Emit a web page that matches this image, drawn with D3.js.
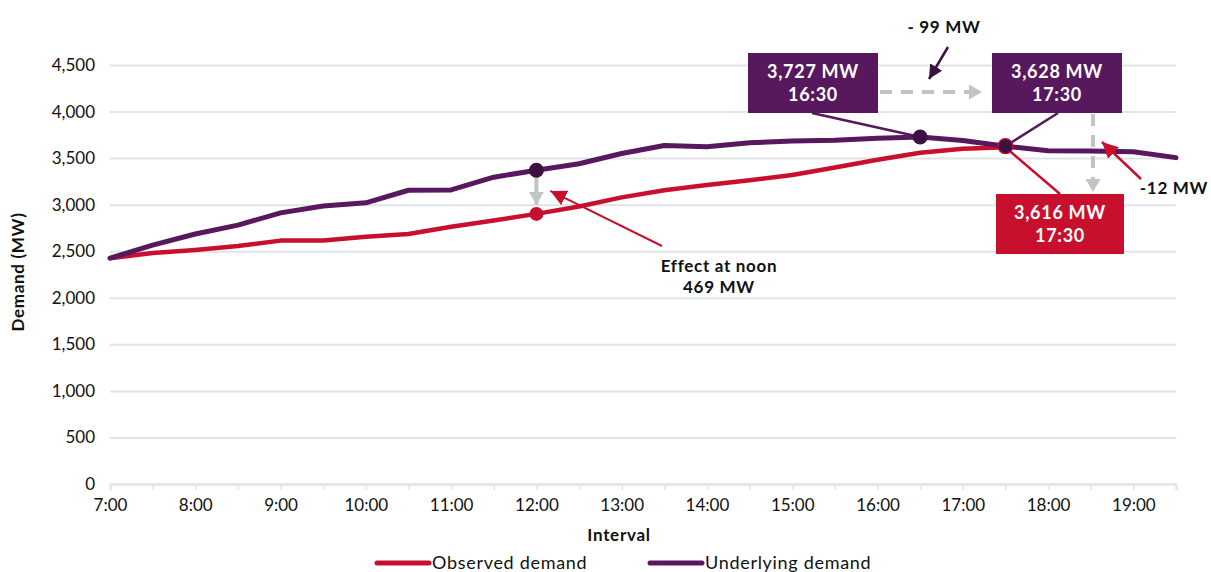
<!DOCTYPE html>
<html>
<head>
<meta charset="utf-8">
<script src="https://cdn.jsdelivr.net/npm/d3@7"></script>
<style>
  body { margin: 0; background: #fff; }
  text { font-family: Lato, 'Open Sans', sans-serif; fill: #111; }
  .bold { font-weight: bold; letter-spacing: 0.7px; }
</style>
</head>
<body>
<div id="chart"></div>
<script>
// half-hour intervals, 7:00 -> 19:30
const times = ['7:00', '7:30', '8:00', '8:30', '9:00', '9:30', '10:00', '10:30', '11:00', '11:30',
  '12:00', '12:30', '13:00', '13:30', '14:00', '14:30', '15:00', '15:30', '16:00', '16:30',
  '17:00', '17:30', '18:00', '18:30', '19:00', '19:30']

const underlying = [2425, 2565, 2685, 2780, 2912, 2985, 3020, 3155, 3158, 3295,
  3370, 3440, 3550, 3635, 3622, 3665, 3683, 3692, 3712, 3727,
  3690, 3628, 3578, 3576, 3568, 3505]

// observed only runs to 17:30
const observed = [2425, 2482, 2514, 2556, 2614, 2615, 2655, 2685, 2763, 2830,
  2901, 2980, 3078, 3155, 3212, 3262, 3318, 3400, 3482, 3558,
  3600, 3616]

const xTickLabels = ['7:00', '8:00', '9:00', '10:00', '11:00', '12:00', '13:00',
  '14:00', '15:00', '16:00', '17:00', '18:00', '19:00']
const yTicks = [0, 500, 1000, 1500, 2000, 2500, 3000, 3500, 4000, 4500]

const seriesNames = ['Observed demand', 'Underlying demand']

const red = '#c8102e'
const purple = '#58185e'
const dark = '#3a1140'
const grey = '#c3c3c3'

const width = 1211
const height = 572
const margin = { top: 65, right: 35, bottom: 88, left: 110 }

const toMin = t => {
  const [h, m] = t.split(':').map(Number)
  return (h - 7) * 60 + m
}

const svg = d3
  .select('#chart')
  .append('svg')
  .attr('width', width)
  .attr('height', height)

const x = d3.scaleLinear().domain([0, 750]).range([margin.left, width - margin.right])
const y = d3.scaleLinear().domain([0, 4500]).range([height - margin.bottom, margin.top])

// gridlines
const yAxis = d3.axisLeft(y).tickValues(yTicks).tickSize(-(x.range()[1] - x.range()[0]))
  .tickFormat(d3.format(','))
  .tickPadding(15)

svg.append('g')
  .attr('class', 'y-axis')
  .attr('transform', `translate(${margin.left},0)`)
  .call(yAxis)
  .call(g => g.select('.domain').remove())
  .call(g => g.selectAll('line').attr('stroke', '#dfe4e8').attr('stroke-width', 2))
  .call(g => g.selectAll('text').style('font-size', '17px').attr('fill', '#111'))

// x axis, ticks every half hour
const xAxis = d3.axisBottom(x)
  .tickValues(times.map(toMin))
  .tickSize(6)
  .tickPadding(9)
  .tickFormat(d => {
    const lbl = times[times.map(toMin).indexOf(d)]
    return xTickLabels.includes(lbl) ? lbl : ''
  })

svg.append('g')
  .attr('class', 'x-axis')
  .attr('transform', `translate(0,${y(0)})`)
  .call(xAxis)
  .call(g => g.select('.domain').attr('stroke', '#dfe4e8').attr('stroke-width', 2))
  .call(g => g.selectAll('line').attr('stroke', '#dfe4e8').attr('stroke-width', 1.5))
  .call(g => g.selectAll('text').style('font-size', '17px').attr('fill', '#111'))

// axis titles
svg.append('text')
  .attr('class', 'bold')
  .attr('x', 619)
  .attr('y', 541)
  .attr('text-anchor', 'middle')
  .style('font-size', '17px')
  .text('Interval')

svg.append('text')
  .attr('class', 'bold')
  .attr('transform', 'translate(24,272) rotate(-90)')
  .attr('text-anchor', 'middle')
  .style('font-size', '17px')
  .text('Demand (MW)')

// lines
const line = d3.line()
  .x((d, i) => x(toMin(times[i])))
  .y(d => y(d))

svg.append('path')
  .datum(observed)
  .attr('d', line)
  .attr('fill', 'none')
  .attr('stroke', red)
  .attr('stroke-width', 4.5)
  .attr('stroke-linejoin', 'round')

svg.append('path')
  .datum(underlying)
  .attr('d', line)
  .attr('fill', 'none')
  .attr('stroke', purple)
  .attr('stroke-width', 5)
  .attr('stroke-linejoin', 'round')
  .attr('stroke-linecap', 'round')

// arrowheads
const defs = svg.append('defs')
function marker(id, color, w, h) {
  defs.append('marker')
    .attr('id', id)
    .attr('viewBox', `0 0 ${w} ${h}`)
    .attr('refX', w)
    .attr('refY', h / 2)
    .attr('markerWidth', w)
    .attr('markerHeight', h)
    .attr('markerUnits', 'userSpaceOnUse')
    .attr('orient', 'auto')
    .append('path')
    .attr('d', `M0,0L${w},${h / 2}L0,${h}Z`)
    .attr('fill', color)
}
marker('head-grey', grey, 13, 15)
marker('head-red', red, 16, 16)
marker('head-dark', dark, 14, 14)

const iNoon = times.indexOf('12:00')
const iPeak = times.indexOf('16:30')
const iLate = times.indexOf('17:30')

// noon effect
svg.append('line')
  .attr('x1', x(toMin('12:00'))).attr('y1', y(underlying[iNoon]) + 7)
  .attr('x2', x(toMin('12:00'))).attr('y2', y(observed[iNoon]) - 9)
  .attr('stroke', grey).attr('stroke-width', 4)
  .attr('marker-end', 'url(#head-grey)')

svg.append('line')
  .attr('x1', 662).attr('y1', 246)
  .attr('x2', x(toMin('12:00')) + 14).attr('y2', y(observed[iNoon]) - 23)
  .attr('stroke', red).attr('stroke-width', 2)
  .attr('marker-end', 'url(#head-red)')

svg.append('text')
  .attr('class', 'bold')
  .attr('x', 719).attr('y', 272)
  .attr('text-anchor', 'middle')
  .style('font-size', '17px')
  .text('Effect at noon')
svg.append('text')
  .attr('class', 'bold')
  .attr('x', 719).attr('y', 293)
  .attr('text-anchor', 'middle')
  .style('font-size', '17px')
  .text(`${d3.format(',')(underlying[iNoon] - observed[iNoon])} MW`)

// leader lines to boxes
const boxes = [
  { cx: 813, cy: 83, w: 130, h: 60, fill: purple, v: underlying[iPeak], t: '16:30', i: iPeak, series: underlying, lx: 812, ly: 113, lc: purple },
  { cx: 1057, cy: 83, w: 130, h: 60, fill: purple, v: underlying[iLate], t: '17:30', i: iLate, series: underlying, lx: 1058, ly: 113, lc: purple },
  { cx: 1060, cy: 224, w: 128, h: 60, fill: red, v: observed[iLate], t: '17:30', i: iLate, series: observed, lx: 1060, ly: 194, lc: red }
]

boxes.forEach(b => {
  svg.append('line')
    .attr('x1', b.lx).attr('y1', b.ly)
    .attr('x2', x(toMin(times[b.i]))).attr('y2', y(b.series[b.i]))
    .attr('stroke', b.lc).attr('stroke-width', 2.5)
})

// grey dashed comparison arrows
svg.append('line')
  .attr('x1', 880).attr('y1', 92)
  .attr('x2', 982).attr('y2', 92)
  .attr('stroke', grey).attr('stroke-width', 4)
  .attr('stroke-dasharray', '12,9')
  .attr('marker-end', 'url(#head-grey)')

svg.append('line')
  .attr('x1', 1093).attr('y1', 114)
  .attr('x2', 1093).attr('y2', 192)
  .attr('stroke', grey).attr('stroke-width', 4)
  .attr('stroke-dasharray', '12,9')
  .attr('marker-end', 'url(#head-grey)')

// dots
svg.append('circle')
  .attr('cx', x(toMin('12:00'))).attr('cy', y(observed[iNoon])).attr('r', 7)
  .attr('fill', red)
svg.append('circle')
  .attr('cx', x(toMin('12:00'))).attr('cy', y(underlying[iNoon])).attr('r', 7.5)
  .attr('fill', dark)
svg.append('circle')
  .attr('cx', x(toMin('16:30'))).attr('cy', y(underlying[iPeak])).attr('r', 7.5)
  .attr('fill', dark)
svg.append('circle')
  .attr('cx', x(toMin('17:30'))).attr('cy', y(underlying[iLate])).attr('r', 7.5)
  .attr('fill', dark).attr('stroke', red).attr('stroke-width', 1.2)

// boxes
boxes.forEach(b => {
  svg.append('rect')
    .attr('x', b.cx - b.w / 2).attr('y', b.cy - b.h / 2)
    .attr('width', b.w).attr('height', b.h)
    .attr('fill', b.fill)
  svg.append('text')
    .attr('class', 'bold')
    .attr('x', b.cx).attr('y', b.cy - 5)
    .attr('text-anchor', 'middle')
    .style('font-size', '18px').style('fill', '#fff')
    .text(`${d3.format(',')(b.v)} MW`)
  svg.append('text')
    .attr('class', 'bold')
    .attr('x', b.cx).attr('y', b.cy + 18)
    .attr('text-anchor', 'middle')
    .style('font-size', '18px').style('fill', '#fff')
    .text(b.t)
})

// -99 MW
svg.append('line')
  .attr('x1', 948).attr('y1', 47)
  .attr('x2', 929).attr('y2', 79)
  .attr('stroke', dark).attr('stroke-width', 2.5)
  .attr('marker-end', 'url(#head-dark)')
svg.append('text')
  .attr('class', 'bold')
  .attr('x', 944).attr('y', 33)
  .attr('text-anchor', 'middle')
  .style('font-size', '17px')
  .text(`- ${underlying[iPeak] - underlying[iLate]} MW`)

// -12 MW
svg.append('line')
  .attr('x1', 1141).attr('y1', 179)
  .attr('x2', 1102).attr('y2', 142)
  .attr('stroke', red).attr('stroke-width', 2.5)
  .attr('marker-end', 'url(#head-red)')
svg.append('text')
  .attr('class', 'bold')
  .attr('x', 1174).attr('y', 194)
  .attr('text-anchor', 'middle')
  .style('font-size', '17px')
  .text(`-${underlying[iLate] - observed[iLate]} MW`)

// legend
const legend = svg.append('g').attr('transform', 'translate(0,563)')
const legendX = [375, 648]
seriesNames.forEach((name, i) => {
  const g = legend.append('g').attr('transform', `translate(${legendX[i]},0)`)
  g.append('line')
    .attr('x1', 2).attr('x2', 54)
    .attr('stroke', i === 0 ? red : purple)
    .attr('stroke-width', 5)
    .attr('stroke-linecap', 'round')
  g.append('text')
    .attr('x', 57).attr('y', 6)
    .style('font-size', '18px')
    .style('letter-spacing', '0.7px')
    .text(name)
})
</script>
</body>
</html>
